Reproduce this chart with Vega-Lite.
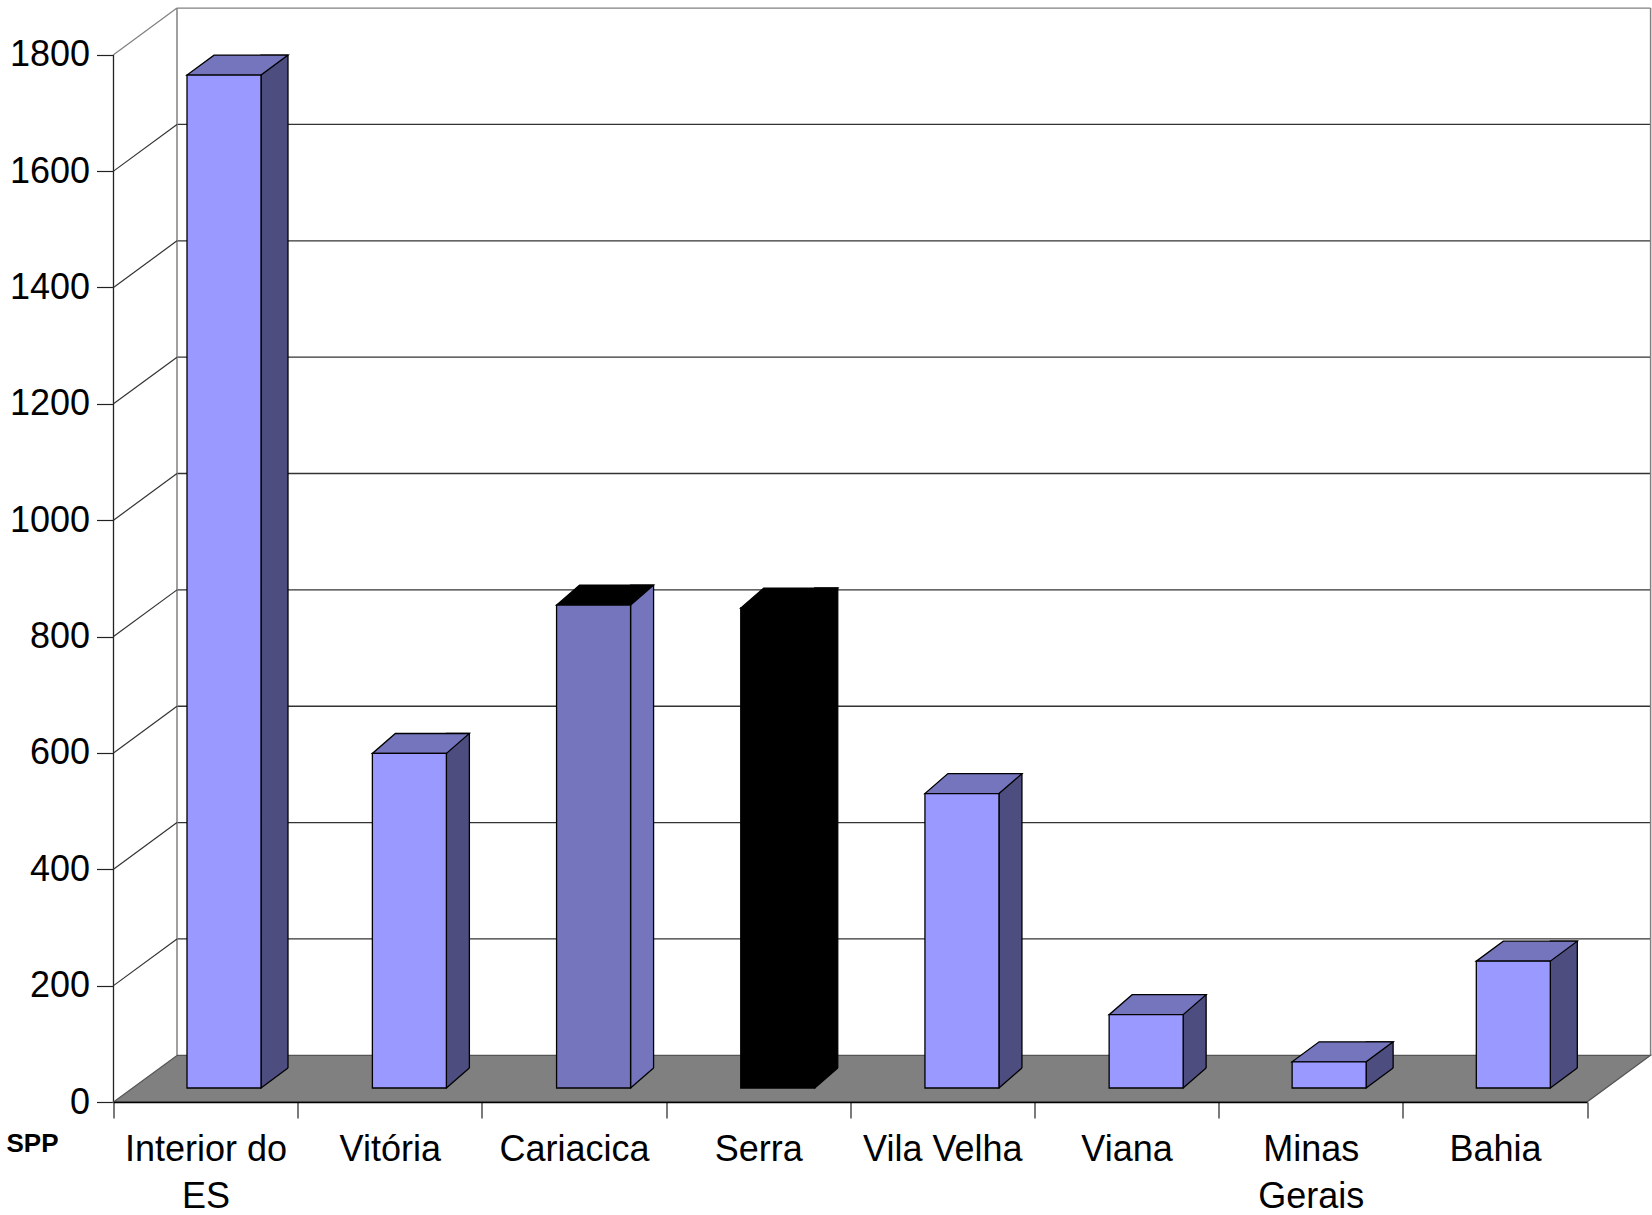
{"$schema":"https://vega.github.io/schema/vega-lite/v6.json","width":1473.5,"height":1094,"autosize":"none","padding":{"left":113.5,"top":8,"right":65,"bottom":113},"background":"white","config":{"view":{"stroke":null},"font":"Liberation Sans"},
"resolve":{"axis":{"x":"independent","y":"independent"}},
"data":{"values":[{"municipio":"Interior do ES","spp":1741},{"municipio":"Vitória","spp":575},{"municipio":"Cariacica","spp":830},{"municipio":"Serra","spp":825},{"municipio":"Vila Velha","spp":506},{"municipio":"Viana","spp":126},{"municipio":"Minas Gerais","spp":45},{"municipio":"Bahia","spp":218}]},
"encoding":{"x":{"field":"municipio","type":"nominal","sort":null,"axis":null,"scale":{"type":"band","domain":["Interior do ES","Vitória","Cariacica","Serra","Vila Velha","Viana","Minas Gerais","Bahia"],"paddingInner":0,"paddingOuter":0}},
"y":{"field":"spp","type":"quantitative","axis":null,"scale":{"domain":[0,1880.4],"nice":false}}},
"layer":[
{"data":{"values":[{"wall":"Serra","tick":200},{"wall":"Serra","tick":400},{"wall":"Serra","tick":600},{"wall":"Serra","tick":800},{"wall":"Serra","tick":1000},{"wall":"Serra","tick":1200},{"wall":"Serra","tick":1400},{"wall":"Serra","tick":1600},{"wall":"Serra","tick":1800}]},"mark":{"type":"point","shape":"M-1,0L1,0","size":2171202,"filled":false,"strokeWidth":1.3,"opacity":1,"xOffset":155.65,"yOffset":-46.7},"encoding":{"x":{"field":"wall","type":"nominal","axis":null},"y":{"field":"tick","type":"quantitative","axis":null},"stroke":{"condition":{"test":"datum.tick===1800","value":"#808080"},"value":"#333333"}}},
{"data":{"values":[{"wall":"Interior do ES","nivel":900}]},"mark":{"type":"point","shape":"M0,-1L0,1","size":1096837,"filled":false,"stroke":"#808080","strokeWidth":1.5,"opacity":1,"xOffset":-28.6,"yOffset":-46.7},"encoding":{"x":{"field":"wall","type":"nominal","axis":null},"y":{"field":"nivel","type":"quantitative","axis":null}}},
{"data":{"values":[{"wall":"Bahia","nivel":900}]},"mark":{"type":"point","shape":"M0,-1L0,1","size":1096837,"filled":false,"stroke":"#808080","strokeWidth":1.5,"opacity":1,"xOffset":155.7,"yOffset":-46.7},"encoding":{"x":{"field":"wall","type":"nominal","axis":null},"y":{"field":"nivel","type":"quantitative","axis":null}}},
{"data":{"values":[{"wall":"Interior do ES","nivel":900}]},"mark":{"type":"point","shape":"M0,-1L0,1","size":1096837,"filled":false,"stroke":"#222222","strokeWidth":1.3,"opacity":1,"xOffset":-92.1},"encoding":{"x":{"field":"wall","type":"nominal","axis":null},"y":{"field":"nivel","type":"quantitative","axis":null}}},
{"data":{"values":[{"wall":"Interior do ES","tick":200},{"wall":"Interior do ES","tick":400},{"wall":"Interior do ES","tick":600},{"wall":"Interior do ES","tick":800},{"wall":"Interior do ES","tick":1000},{"wall":"Interior do ES","tick":1200},{"wall":"Interior do ES","tick":1400},{"wall":"Interior do ES","tick":1600},{"wall":"Interior do ES","tick":1800}]},"mark":{"type":"point","shape":"M-1,0.735L1,-0.735","size":4032,"filled":false,"strokeWidth":1.2,"opacity":1,"xOffset":-60.35,"yOffset":-23.35},"encoding":{"x":{"field":"wall","type":"nominal","axis":null},"y":{"field":"tick","type":"quantitative","axis":null},"stroke":{"condition":{"test":"datum.tick===1800","value":"#808080"},"value":"#333333"}}},
{"data":{"values":[{"floor":"Serra","nivel":0}]},"mark":{"type":"point","shape":"M-1,0.0304L0.917,0.0304L1,-0.0304L-0.917,-0.0304Z","size":2363000,"filled":true,"fill":"#808080","stroke":"#555555","strokeWidth":1.3,"opacity":1,"xOffset":123.9,"yOffset":-23.35},"encoding":{"x":{"field":"floor","type":"nominal","axis":null},"y":{"field":"nivel","type":"quantitative","axis":null}}},

{"transform":[{"filter":{"field":"municipio","oneOf":["Interior do ES","Minas Gerais","Bahia"]}}],"mark":{"type":"bar","width":27,"stroke":"black","strokeWidth":1.3,"xOffset":68.9,"yOffset":-34,"y2Offset":-14},"encoding":{"y2":{"datum":0},"fill":{"value":"#4D4D80"}}},
{"transform":[{"filter":{"field":"municipio","oneOf":["Vitória","Cariacica","Serra","Vila Velha","Viana"]}}],"mark":{"type":"bar","width":23,"stroke":"black","strokeWidth":1.3,"xOffset":68.1,"yOffset":-34,"y2Offset":-14},"encoding":{"y2":{"datum":0},"fill":{"condition":[{"test":"datum.municipio==='Serra'","value":"#000000"},{"test":"datum.municipio==='Cariacica'","value":"#7575BE"}],"value":"#4D4D80"}}},

{"transform":[{"filter":{"field":"municipio","oneOf":["Interior do ES","Minas Gerais","Bahia"]}}],"mark":{"type":"point","shape":"M-1,0.741L-1,0.88L1.15,0.88L1.15,-0.741L1,-0.741Z","size":729,"filled":true,"fill":"#808080","strokeWidth":0,"opacity":1,"xOffset":68.9,"yOffset":-24},"encoding":{"y":{"datum":0,"axis":null}}},
{"transform":[{"filter":{"field":"municipio","oneOf":["Vitória","Cariacica","Serra","Vila Velha","Viana"]}}],"mark":{"type":"point","shape":"M-1,0.87L-1,1.03L1.15,1.03L1.15,-0.87L1,-0.87Z","size":529,"filled":true,"fill":"#808080","strokeWidth":0,"opacity":1,"xOffset":68.1,"yOffset":-24},"encoding":{"y":{"datum":0,"axis":null}}},
{"transform":[{"filter":{"field":"municipio","oneOf":["Interior do ES","Minas Gerais","Bahia"]}}],"mark":{"type":"point","shape":"M-1,0.741L1,-0.741","size":729,"filled":false,"stroke":"black","strokeWidth":1.3,"opacity":1,"xOffset":68.9,"yOffset":-24},"encoding":{"y":{"datum":0,"axis":null}}},
{"transform":[{"filter":{"field":"municipio","oneOf":["Vitória","Cariacica","Serra","Vila Velha","Viana"]}}],"mark":{"type":"point","shape":"M-1,0.87L1,-0.87","size":529,"filled":false,"stroke":"black","strokeWidth":1.3,"opacity":1,"xOffset":68.1,"yOffset":-24},"encoding":{"y":{"datum":0,"axis":null}}},

{"transform":[{"filter":{"field":"municipio","oneOf":["Interior do ES","Minas Gerais","Bahia"]}}],"mark":{"type":"point","shape":"M-1,0.198L0.465,0.198L1,-0.198L-0.465,-0.198Z","size":10201,"filled":true,"stroke":"black","strokeWidth":1.3,"opacity":1,"xOffset":31.9,"yOffset":-24},"encoding":{"fill":{"value":"#7575BE"}}},
{"transform":[{"filter":{"field":"municipio","oneOf":["Vitória","Cariacica","Serra","Vila Velha","Viana"]}}],"mark":{"type":"point","shape":"M-1,0.206L0.526,0.206L1,-0.206L-0.526,-0.206Z","size":9409,"filled":true,"stroke":"black","strokeWidth":1.3,"opacity":1,"xOffset":31.1,"yOffset":-24},"encoding":{"fill":{"condition":[{"test":"datum.municipio==='Serra'||datum.municipio==='Cariacica'","value":"#000000"}],"value":"#7575BE"}}},

{"transform":[{"filter":{"field":"municipio","oneOf":["Vitória","Cariacica","Serra","Vila Velha","Viana"]}}],"mark":{"type":"bar","width":74,"stroke":"black","strokeWidth":1.3,"xOffset":19.6,"yOffset":-14,"y2Offset":-14},"encoding":{"y2":{"datum":0},"fill":{"condition":[{"test":"datum.municipio==='Serra'","value":"#000000"},{"test":"datum.municipio==='Cariacica'","value":"#7575BE"}],"value":"#9999FF"}}},
{"transform":[{"filter":{"field":"municipio","oneOf":["Interior do ES","Minas Gerais","Bahia"]}}],"mark":{"type":"bar","width":74,"stroke":"black","strokeWidth":1.3,"xOffset":18.4,"yOffset":-14,"y2Offset":-14},"encoding":{"y2":{"datum":0},"fill":{"value":"#9999FF"},
"x":{"field":"municipio","type":"nominal","sort":null,"title":"SPP","axis":{"tickBand":"extent","zindex":1,"labelAngle":0,"labelFont":"Liberation Sans","labelFontSize":36,"labelColor":"black","labelLineHeight":47,"labelPadding":14,"labelLimit":0,"tickSize":16,"tickColor":"#222222","tickWidth":1.2,"domainColor":"black","domainWidth":1.5,"grid":false,"labelExpr":"datum.label==='Interior do ES'?['Interior do','ES']:datum.label==='Minas Gerais'?['Minas','Gerais']:datum.label","titleFont":"Liberation Sans","titleFontSize":26,"titleFontWeight":"bold","titleColor":"black","titleX":-81.5,"titleY":49,"titleAlign":"center","titleBaseline":"alphabetic"}},
"y":{"field":"spp","type":"quantitative","title":null,"axis":{"values":[0,200,400,600,800,1000,1200,1400,1600,1800],"domain":false,"grid":false,"tickSize":17,"tickColor":"#222222","tickWidth":1.2,"labelFont":"Liberation Sans","labelFontSize":36,"labelColor":"black","labelPadding":7,"format":"d"}}}}
]}
